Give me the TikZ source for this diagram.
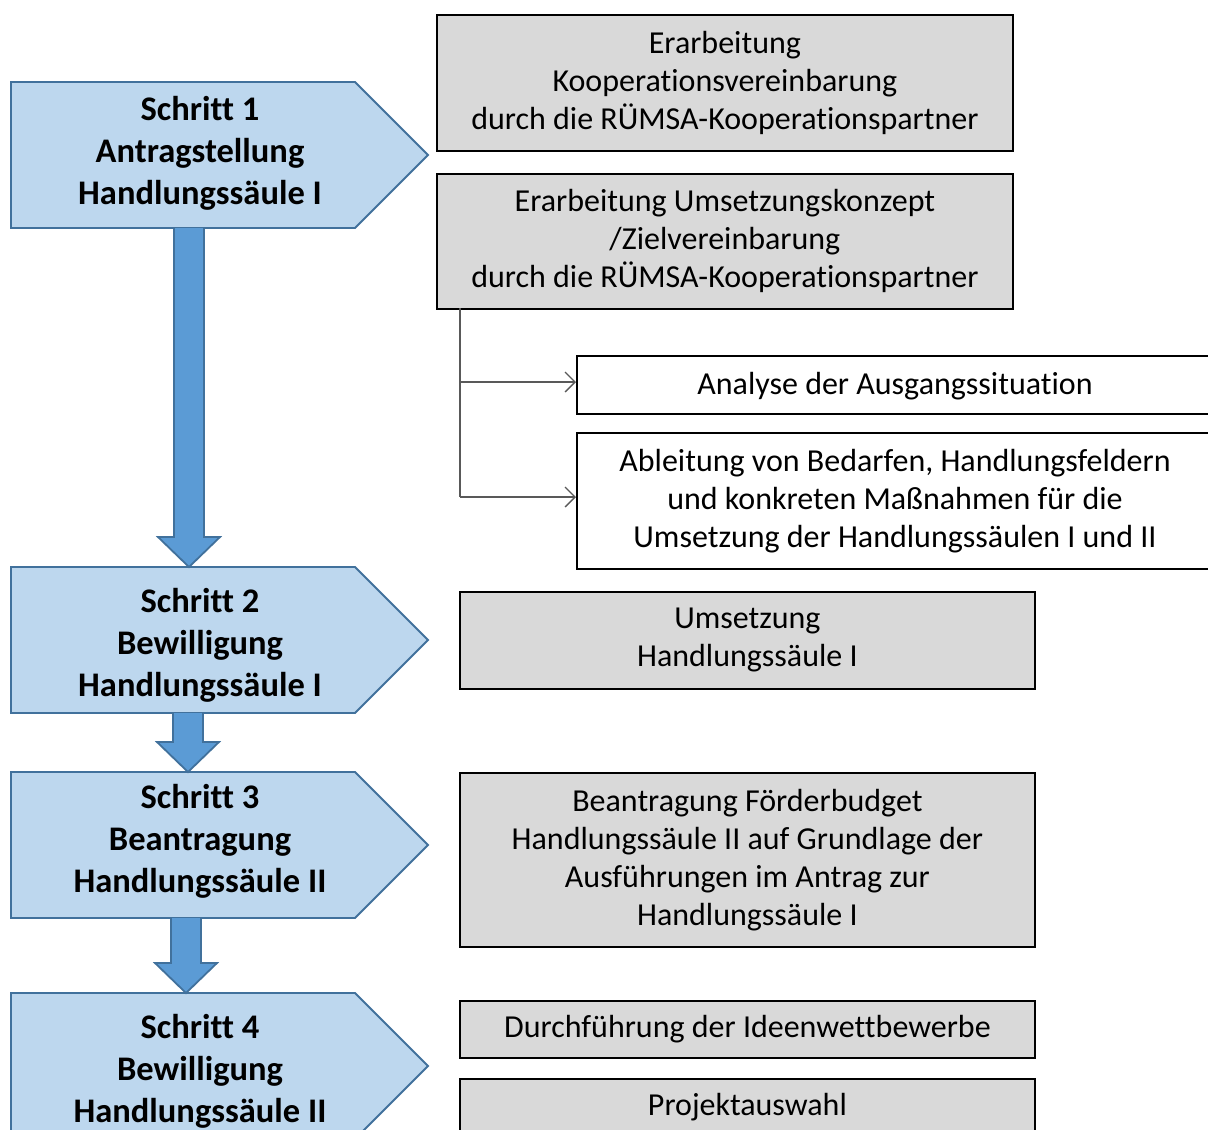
\documentclass[tikz,border=0pt]{standalone}
\usepackage{fontspec}
\setmainfont{Carlito}[Ligatures={NoCommon}]
\usetikzlibrary{arrows.meta,calc}
\definecolor{chevfill}{HTML}{BDD7EE}
\definecolor{chevline}{HTML}{41719C}
\definecolor{arrfill}{HTML}{5B9BD5}
\definecolor{boxfill}{HTML}{D9D9D9}
\definecolor{conn}{HTML}{595959}
\tikzset{
  graybox/.style={draw=black, line width=1.8pt, fill=boxfill, anchor=north west,
    inner sep=0pt, font=\fontsize{32}{38}\selectfont, align=center},
  whitebox/.style={graybox, fill=white},
  plaintext/.style={inner sep=0pt, font=\fontsize{32}{38}\selectfont, align=center},
  chevshape/.style={draw=chevline, line width=1.8pt, fill=chevfill, line join=miter},
  chevtext/.style={inner sep=0pt, font=\fontsize{34.5}{42}\selectfont\bfseries, align=center},
  blockarrow/.style={draw=chevline, line width=1.8pt, fill=arrfill, line join=miter},
  conline/.style={draw=conn, line width=1.3pt, -{Straight Barb[length=10pt,width=20pt,line width=1.3pt]}}
}
\begin{document}
\begin{tikzpicture}[x=1pt,y=-1pt]
\useasboundingbox (0,0) rectangle (1208,1130);
\clip (0,0) rectangle (1208,1130);

% chevrons
\foreach \T in {82,567,772,993}{
  \draw[chevshape] (11,\T) -- (355,\T) -- (428,\T+73) -- (355,\T+146) -- (11,\T+146) -- cycle;
}
\node[chevtext] (s1) at (200,153) {Schritt 1\\Antragstellung\\Handlungssäule I};
\node[chevtext] (s2) at (200,645) {Schritt 2\\Bewilligung\\Handlungssäule I};
\node[chevtext] (s3) at (200,841) {Schritt 3\\Beantragung\\Handlungssäule II};
\node[chevtext] (s4) at (200,1071) {Schritt 4\\Bewilligung\\Handlungssäule II};

\coordinate (a1s) at (189,228);
\coordinate (a1e) at (189,567);
\coordinate (a2s) at (188,713);
\coordinate (a2e) at (188,772);
\coordinate (a3s) at (186,918);
\coordinate (a3e) at (186,993);

% block arrows
\foreach \s/\e in {a1s/a1e,a2s/a2e,a3s/a3e}{
  \draw[blockarrow] ($(\s)+(-15,0)$) -- ($(\e)+(-15,-30)$) -- ($(\e)+(-31,-30)$) -- (\e)
    -- ($(\e)+(31,-30)$) -- ($(\e)+(15,-30)$) -- ($(\s)+(15,0)$);
}

% gray / white boxes
\node[graybox, minimum width=576pt, minimum height=136pt] (bA) at (436,14)
  {Erarbeitung\\Kooperationsvereinbarung\\durch die RÜMSA-Kooperationspartner};
\node[graybox, minimum width=576pt, minimum height=135pt] (bB) at (436,173)
  {Erarbeitung Umsetzungskonzept\\/Zielvereinbarung\\durch die RÜMSA-Kooperationspartner};
\node[whitebox, minimum width=640pt, minimum height=58pt] (bC) at (576,355) {};
\node[plaintext] (tC) at (895,386) {Analyse der Ausgangssituation};
\node[whitebox, minimum width=640pt, minimum height=136pt] (bD) at (576,432) {};
\node[plaintext] (tD) at (895,501)
  {Ableitung von Bedarfen, Handlungsfeldern\\und konkreten Maßnahmen für die\\Umsetzung der Handlungssäulen I und II};
\node[graybox, minimum width=575pt, minimum height=97pt] (bE) at (459,591)
  {Umsetzung\\Handlungssäule I};
\node[graybox, minimum width=575pt, minimum height=174pt] (bF) at (459,772)
  {Beantragung Förderbudget\\Handlungssäule II auf Grundlage der\\Ausführungen im Antrag zur\\Handlungssäule I};
\node[graybox, minimum width=575pt, minimum height=57pt] (bG) at (459,1000)
  {Durchführung der Ideenwettbewerbe};
\node[graybox, minimum width=575pt, minimum height=57pt] (bH) at (459,1078)
  {Projektauswahl};

% connectors
\coordinate (cTop) at (460,308);
\coordinate (cBot) at (460,497);
\draw[draw=conn, line width=1.3pt] (cTop) -- (cBot);
\draw[conline] (460,382) -- (bC.west |- 0,382);
\draw[conline] (cBot) -- (bD.west |- cBot);
\end{tikzpicture}
\end{document}
